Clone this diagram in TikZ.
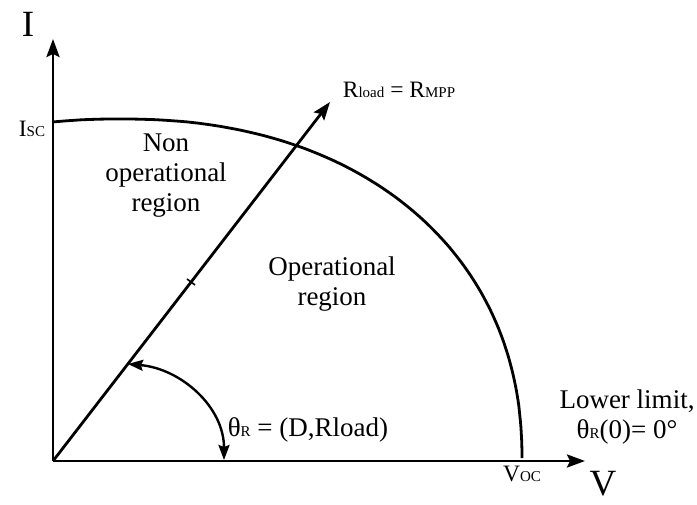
\documentclass[tikz,border=0pt]{standalone}
\usepackage{fontspec}
\setmainfont{Liberation Serif}
\usetikzlibrary{arrows.meta}
\newcommand\smtxt[1]{{\fontsize{15}{15}\selectfont #1}}
\begin{document}
\begin{tikzpicture}[x=1pt,y=1pt,
  axis/.style={line width=2.8pt,-{Stealth[length=18pt,width=13pt,inset=3pt]}},
  curve/.style={line width=2.8pt},
  lbl/.style={inner sep=0pt,font=\rmfamily\fontsize{27}{30}\selectfont,align=center},
  big/.style={inner sep=0pt,font=\rmfamily\fontsize{37}{37}\selectfont},
  mid/.style={inner sep=0pt,font=\rmfamily\fontsize{23.5}{24}\selectfont},
  angarr/.style={line width=2.4pt,{Stealth[length=15pt,width=11pt,inset=2pt]}-{Stealth[length=15pt,width=11pt,inset=2pt]}}
]
\useasboundingbox (0,0) rectangle (697,504);
\coordinate (O) at (53,43);
\coordinate (Itop) at (53,465);
\coordinate (Vend) at (585,43);
\coordinate (Rtip) at (330,402);
\coordinate (A) at (128,140);
\coordinate (B) at (224,44);
\coordinate (T) at (191,222);

\draw[axis] (O) -- (Itop);
\draw[axis] (O) -- (Vend);
\draw[axis] (O) -- (Rtip);
\draw[line width=1.6pt] ([shift={(-4,3)}]T) -- ([shift={(4,-3)}]T);

\draw[curve] plot[domain=0.3:97.8, samples=120, variable=\t, smooth]
  ({120 + 402*sign(cos(\t))*(abs(cos(\t))+0.00001)^0.909}, {43 + 342*(abs(sin(\t))+0.00001)^0.909});

\draw[angarr] (A) to[out=-5,in=90] (B);

\node[big] (ilab) at (28,480) {I};
\node[big] (vlab) at (603,20) {V};
\node[mid] (isc) at (32,375) {I\smtxt{SC}};
\node[mid] (voc) at (522,30) {V\smtxt{OC}};
\node[mid] (rload) at (399,414) {R\smtxt{load} = R\smtxt{MPP}};
\node[lbl] (nonop) at (166,328) {Non\\operational\\region};
\node[lbl] (op) at (332,220) {Operational\\region};
\node[lbl] (theta) at (308,74) {θ\smtxt{R} = (D,Rload)};
\node[lbl] (lower) at (627,87) {Lower limit,\\θ\smtxt{R}(0)= 0°};
\end{tikzpicture}
\end{document}
